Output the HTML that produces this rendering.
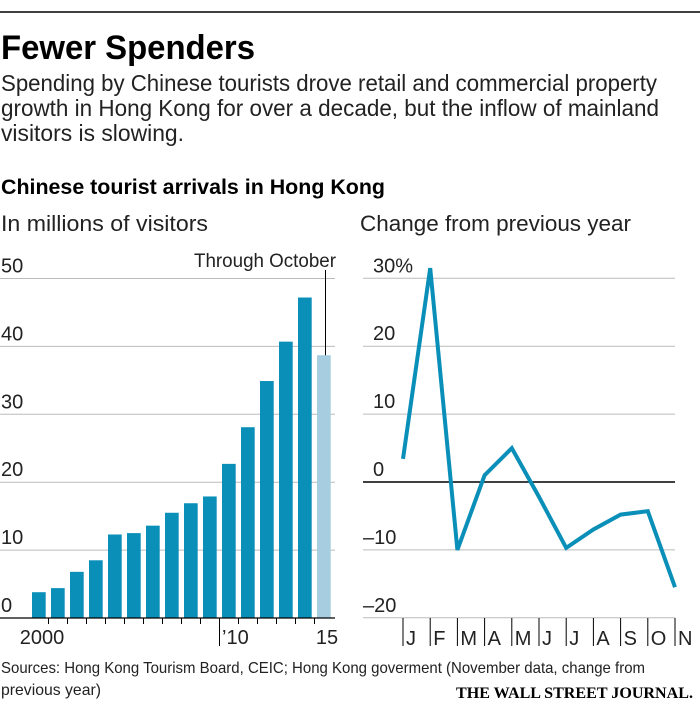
<!DOCTYPE html>
<html><head><meta charset="utf-8"><style>
html,body{margin:0;padding:0;background:#fff;}
svg{display:block;font-family:"Liberation Sans",sans-serif;}
</style></head><body>
<svg id="c" width="700" height="709" viewBox="0 0 700 709">
<line x1="0" y1="12" x2="700" y2="12" stroke="#000" stroke-width="1.5"/>
<text x="1" y="59" font-size="34" font-weight="bold" textLength="254" lengthAdjust="spacingAndGlyphs">Fewer Spenders</text>
<text x="1" y="91" font-size="23" fill="#222" textLength="656" lengthAdjust="spacingAndGlyphs">Spending by Chinese tourists drove retail and commercial property</text>
<text x="1" y="116" font-size="23" fill="#222" textLength="658" lengthAdjust="spacingAndGlyphs">growth in Hong Kong for over a decade, but the inflow of mainland</text>
<text x="1" y="141" font-size="23" fill="#222" textLength="183" lengthAdjust="spacingAndGlyphs">visitors is slowing.</text>
<text x="1" y="194" font-size="21" font-weight="bold" textLength="384" lengthAdjust="spacingAndGlyphs">Chinese tourist arrivals in Hong Kong</text>
<text x="1" y="231" font-size="22" fill="#222" textLength="207" lengthAdjust="spacingAndGlyphs">In millions of visitors</text>
<text x="360" y="231" font-size="22" fill="#222" textLength="271" lengthAdjust="spacingAndGlyphs">Change from previous year</text>
<g id="left"></g>
<g id="right"></g>
<text x="1" y="673" font-size="16" fill="#222" textLength="644" lengthAdjust="spacingAndGlyphs">Sources: Hong Kong Tourism Board, CEIC; Hong Kong goverment (November data, change from</text>
<text x="1" y="695" font-size="16" fill="#222" textLength="100" lengthAdjust="spacingAndGlyphs">previous year)</text>
<text x="693" y="698" font-size="16" font-weight="bold" text-anchor="end" font-family="Liberation Serif,serif" textLength="237" lengthAdjust="spacingAndGlyphs">THE WALL STREET JOURNAL.</text>
</svg>
<script>
const years = [2000,2001,2002,2003,2004,2005,2006,2007,2008,2009,2010,2011,2012,2013,2014,2015];
const arrivals = [3.8,4.4,6.8,8.5,12.3,12.5,13.6,15.5,16.9,17.9,22.7,28.1,34.9,40.7,47.2,38.7];
const leftTicks = [0,10,20,30,40,50];
const yearLabels = ["2000","’10","15"];
const months = ["J","F","M","A","M","J","J","A","S","O","N"];
const changes = [3.4,31.5,-10,1,5,-2.2,-9.7,-7,-4.8,-4.3,-15.5];
const rightTicks = [-20,-10,0,10,20,30];
const rightTickLabels = ["–20","–10","0","10","20","30%"];

const NS="http://www.w3.org/2000/svg";
function mk(tag,attrs,parent,txt){const e=document.createElementNS(NS,tag);for(const k in attrs)e.setAttribute(k,attrs[k]);if(txt!==undefined)e.textContent=txt;parent.appendChild(e);return e;}
const yL=v=>618-v*6.79;
const xL=i=>32+i*19;
const L=document.getElementById('left');
leftTicks.forEach(t=>{
  if(t>0){const g=mk('line',{x1:0,x2:335,y1:yL(t),y2:yL(t),stroke:'#bbb','stroke-width':1},L);
  
  }
  const tx=mk('text',{x:1,y:yL(t)-6,'font-size':20,fill:'#222'},L,String(t));
  
  
});
arrivals.forEach((v,i)=>{
  const r=mk('rect',{x:xL(i),y:yL(v),width:13.7,height:yL(0)-yL(v),fill:i===arrivals.length-1?'#a6cee0':'#0a8fb8'},L);
  
  
});
const base=mk('line',{x1:0,x2:335,y1:618,y2:618,stroke:'#000','stroke-width':1.3},L);


for(let i=1;i<years.length;i++){
  const x=xL(i)-2.5;
  const tk=mk('line',{x1:x,x2:x,y1:618,y2:years[i]===2010?646:624,stroke:'#000','stroke-width':1},L);
  
  
}
[[0,42,'middle'],[10,222,'start'],[15,327,'middle']].forEach(([i,x,a],k)=>{
  const t=mk('text',{x:x,y:644,'font-size':20,fill:'#222','text-anchor':a},L,yearLabels[k]);
  
  
});
const ann=mk('text',{x:336,y:267,'font-size':19,fill:'#222','text-anchor':'end',textLength:142,lengthAdjust:'spacingAndGlyphs'},L,'Through October');


const al=mk('line',{x1:325.5,x2:325.5,y1:270,y2:yL(arrivals[15]),stroke:'#000','stroke-width':1},L);



const yR=v=>482-v*6.79;
const xR=i=>403+i*27.2;
const R=document.getElementById('right');
rightTicks.forEach((t,k)=>{
  const g=mk('line',{x1:363,x2:675,y1:yR(t),y2:yR(t),stroke:t===0?'#000':'#bbb','stroke-width':t===0?1.5:1},R);
  
  
  const tx=mk('text',{x:t<0?363:373,y:yR(t)-6,'font-size':20,fill:'#222'},R,rightTickLabels[k]);
  
  
});
months.forEach((m,i)=>{
  const x=xR(i);
  const tk=mk('line',{x1:x,x2:x,y1:618,y2:646,stroke:'#000','stroke-width':1},R);
  
  
  const t=mk('text',{x:x+3,y:645,'font-size':20,fill:'#222'},R,m);
  
  
});
const pts=changes.map((v,i)=>xR(i).toFixed(1)+','+yR(v).toFixed(1)).join(' ');
const pl=mk('polyline',{points:pts,fill:'none',stroke:'#0a8fb8','stroke-width':4,'stroke-linejoin':'miter'},R);


</script>
</body></html>
